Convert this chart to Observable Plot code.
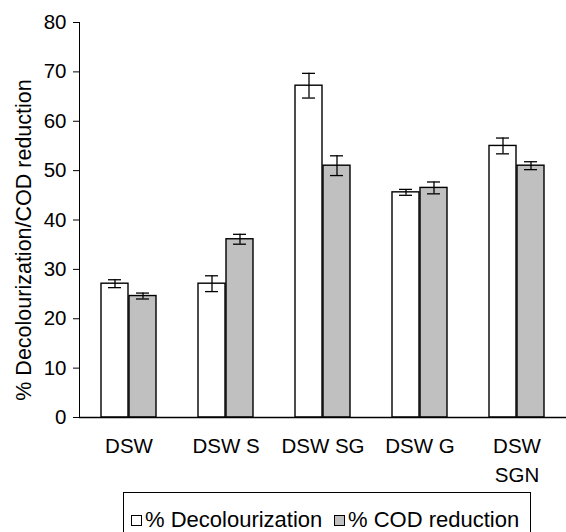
<!DOCTYPE html>
<html>
<head>
<meta charset="utf-8">
<script src="https://cdn.jsdelivr.net/npm/d3@7"></script>
<script src="https://cdn.jsdelivr.net/npm/@observablehq/plot@0.6"></script>
<style>
  html, body { margin: 0; padding: 0; background: #fff; }
  body { width: 566px; height: 532px; overflow: hidden; position: relative; font-family: "Liberation Sans", Arial, sans-serif; }
  #legend { position: absolute; left: 123px; top: 492px; width: 408px; height: 60px; border: 1px solid #000; box-sizing: border-box; }
  .item { position: absolute; top: 15px; display: flex; align-items: center; font-size: 22px; line-height: 24px; color: #000; white-space: nowrap; }
  .sw { width: 9px; height: 9px; border: 1px solid #000; margin-right: 3px; }
</style>
</head>
<body>
<div id="chart"></div>
<div id="legend">
  <div class="item" style="left:7px"><span class="sw" style="background:#fff"></span><span id="l1"></span></div>
  <div class="item" style="left:210px"><span class="sw" style="background:#c0c0c0"></span><span id="l2"></span></div>
</div>
<script>
const categories = ["DSW", "DSW S", "DSW SG", "DSW G", "DSW SGN"];
const tickLabels = ["DSW", "DSW S", "DSW SG", "DSW G", "DSW\nSGN"];
const seriesNames = ["% Decolourization", "% COD reduction"];
const decolourization = [27.1, 27.1, 67.2, 45.6, 55.0];
const decolourizationErr = [0.8, 1.6, 2.5, 0.6, 1.6];
const codReduction = [24.6, 36.1, 51.0, 46.5, 51.0];
const codReductionErr = [0.6, 1.0, 2.0, 1.2, 0.8];
const yTicks = [0, 10, 20, 30, 40, 50, 60, 70, 80];
const yLabel = "% Decolourization/COD reduction";

const A = categories.map((c, i) => ({cat: c, v: decolourization[i], lo: decolourization[i] - decolourizationErr[i], hi: decolourization[i] + decolourizationErr[i]}));
const B = categories.map((c, i) => ({cat: c, v: codReduction[i], lo: codReduction[i] - codReductionErr[i], hi: codReduction[i] + codReductionErr[i]}));

document.getElementById("l1").textContent = seriesNames[0];
document.getElementById("l2").textContent = seriesNames[1];

const chart = Plot.plot({
  width: 566,
  height: 490,
  marginLeft: 79,
  marginRight: 0,
  marginTop: 22,
  marginBottom: 73,
  style: {fontFamily: "'Liberation Sans', Arial, sans-serif", fontSize: "20.5px", color: "#000", background: "#fff"},
  x: {domain: categories, axis: null, paddingInner: 0.43, paddingOuter: 0.2},
  y: {domain: [0, 80], ticks: yTicks, tickSize: 6, tickPadding: 7, line: true, label: null},
  marks: [
    Plot.barY(A, {x: "cat", y: "v", insetRight: 28, fill: "#fff", stroke: "#000", strokeWidth: 1.4}),
    Plot.barY(B, {x: "cat", y: "v", insetLeft: 28, fill: "#c0c0c0", stroke: "#000", strokeWidth: 1.4}),
    Plot.ruleX(A, {x: "cat", y1: "lo", y2: "hi", dx: -14, stroke: "#000", strokeWidth: 1.3}),
    Plot.ruleX(B, {x: "cat", y1: "lo", y2: "hi", dx: 14, stroke: "#000", strokeWidth: 1.3}),
    Plot.tickY(A, {x: "cat", y: "hi", insetLeft: 7, insetRight: 35, stroke: "#000", strokeWidth: 1.3}),
    Plot.tickY(A, {x: "cat", y: "lo", insetLeft: 7, insetRight: 35, stroke: "#000", strokeWidth: 1.3}),
    Plot.tickY(B, {x: "cat", y: "hi", insetLeft: 35, insetRight: 7, stroke: "#000", strokeWidth: 1.3}),
    Plot.tickY(B, {x: "cat", y: "lo", insetLeft: 35, insetRight: 7, stroke: "#000", strokeWidth: 1.3}),
    Plot.ruleY([0], {stroke: "#000", strokeWidth: 1.3}),
    Plot.text(categories, {x: d => d, text: (d, i) => tickLabels[i], frameAnchor: "bottom", lineAnchor: "top", dy: 14, lineHeight: 1.45, fontSize: 20.5, fill: "#000"}),
    Plot.text([yLabel], {text: d => d, frameAnchor: "left", textAnchor: "middle", lineAnchor: "middle", rotate: -90, dx: -55, dy: 20, fontSize: 21.5, fill: "#000"})
  ]
});
document.getElementById("chart").appendChild(chart);
</script>
</body>
</html>
